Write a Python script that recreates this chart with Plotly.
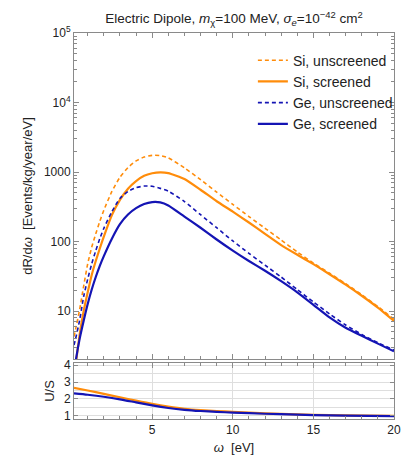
import plotly.graph_objects as go

# energy grid [eV]
omega = [0.15, 0.25, 0.5, 0.75, 1.0, 1.25, 1.5, 1.75, 2.0, 2.5, 3.0, 3.5, 4.0,
         4.5, 5.0, 5.5, 6.0, 7.0, 8.0, 9.0, 10.0, 11.0, 12.0, 13.0, 14.0,
         15.0, 16.0, 17.0, 18.0, 19.0, 20.0]

# dR/domega [Events/kg/year/eV]
si_unscreened = [4.3, 5.5, 10.5, 22.9, 47.9, 83, 129, 195, 282, 525, 841,
                 1161, 1445, 1641, 1738, 1726, 1603, 1148, 776, 513, 343, 229,
                 155, 105, 70.8, 49, 35.1, 24.8, 17.2, 11.6, 7.6]
si_screened = [1.0, 1.66, 4.57, 10, 18.6, 33.1, 52.5, 79.4, 117.5, 240, 398,
               575, 741, 881, 959, 991, 966, 794, 556, 380, 269, 188, 129, 89,
               64.6, 47.3, 33.9, 24, 16.6, 11.2, 7.2]
ge_unscreened = [3.24, 4.0, 7.4, 16.2, 28.8, 47.9, 74, 110, 155, 269, 417,
                 525, 596, 628, 624, 582, 531, 376, 243, 158, 102, 67.6, 45.7,
                 30.9, 20.4, 13.5, 9.1, 6.3, 4.6, 3.5, 2.75]
ge_screened = [1.2, 1.86, 3.98, 7.24, 12.6, 20.4, 30.9, 44.7, 61.7, 110, 178,
               245, 302, 347, 370, 366, 331, 229, 158, 107, 74, 52.5, 38, 26.9,
               18.6, 12.3, 8.1, 5.75, 4.4, 3.4, 2.63]

# unscreened / screened ratio (lower panel)
omega_ratio = [0.15, 1, 2, 3, 4, 5, 6, 7, 8, 9, 10, 12, 14, 15, 17, 20]
si_ratio = [2.65, 2.5, 2.3, 2.1, 1.9, 1.71, 1.55, 1.42, 1.34, 1.29, 1.24,
            1.15, 1.09, 1.06, 1.03, 1.0]
ge_ratio = [2.33, 2.25, 2.13, 1.98, 1.8, 1.62, 1.47, 1.36, 1.29, 1.24, 1.2,
            1.13, 1.08, 1.05, 1.02, 0.99]

orange = '#FF8C0A'
blue = '#1414B4'
frame = '#8a8a8a'
font = 'Liberation Sans, Arial, sans-serif'

fig = go.Figure()

main = [
    ("Si, unscreened", si_unscreened, orange, '4px,3px', 1.6),
    ("Si, screened", si_screened, orange, 'solid', 2.2),
    ("Ge, unscreened", ge_unscreened, blue, '4px,3px', 1.6),
    ("Ge, screened", ge_screened, blue, 'solid', 2.2),
]
for name, vals, col, dash, w in main:
    fig.add_trace(go.Scatter(
        x=omega, y=vals, mode='lines', name=name,
        line=dict(color=col, width=w, dash=dash, shape='spline', smoothing=0.5),
        xaxis='x', yaxis='y', hoverinfo='skip'
    ))

for vals, col in [(si_ratio, orange), (ge_ratio, blue)]:
    fig.add_trace(go.Scatter(
        x=omega_ratio, y=vals, mode='lines', showlegend=False,
        line=dict(color=col, width=2.2, shape='spline', smoothing=0.6),
        xaxis='x2', yaxis='y2', hoverinfo='skip'
    ))

axis_common = dict(
    showline=True, linecolor=frame, linewidth=1, mirror='ticks',
    ticks='inside', tickcolor=frame, zeroline=False, automargin=False,
    tickfont=dict(family=font, size=12, color='#222'),
)

fig.update_layout(
    width=407, height=456,
    margin=dict(l=74, r=9, t=33, b=37),
    paper_bgcolor='white', plot_bgcolor='white',
    font=dict(family=font, size=13, color='#222'),
    title=dict(
        text="Electric Dipole, <i>m</i><sub>χ</sub>=100 MeV, "
             "<i>σ</i><sub><i>e</i></sub>=10<sup>−42</sup> cm<sup>2</sup>",
        x=0.5, xref='paper', xanchor='center', y=0.959, yanchor='middle',
        font=dict(family=font, size=13.5, color='#222')
    ),
    xaxis=dict(
        axis_common, anchor='y', range=[0.15, 20], showticklabels=False,
        tickvals=[5, 10, 15, 20], ticklen=5, showgrid=False,
        minor=dict(ticks='inside', dtick=1, ticklen=3, tickcolor=frame)
    ),
    yaxis=dict(
        axis_common, domain=[0.1554, 1], type='log', range=[0.31, 5],
        tickvals=[10, 100, 1000, 1e4, 1e5],
        ticktext=['10', '100', '1000', '10<sup>4</sup>', '10<sup>5</sup>'],
        ticklen=5, showgrid=False,
        minor=dict(ticks='inside', ticklen=3, tickcolor=frame, dtick='D1'),
        title=dict(text="dR/d<i>ω</i>  [Events/kg/year/eV]", standoff=8,
                   font=dict(family=font, size=13, color='#222'))
    ),
    xaxis2=dict(
        axis_common, anchor='y2', range=[0.15, 20],
        tickvals=[5, 10, 15, 20], ticklen=5,
        showgrid=True, gridcolor='#dedede', gridwidth=1,
        minor=dict(ticks='inside', dtick=1, ticklen=3, tickcolor=frame,
                   showgrid=False),
        title=dict(text="<i>ω</i>  [eV]", standoff=6,
                   font=dict(family=font, size=13, color='#222'))
    ),
    yaxis2=dict(
        axis_common, domain=[0, 0.1451], range=[0.82, 4.12],
        tickvals=[1, 2, 3, 4], ticklen=4,
        showgrid=True, gridcolor='#dedede', gridwidth=1,
        minor=dict(dtick=0.5, tick0=0, showgrid=True, gridcolor='#dedede',
                   ticks=''),
        title=dict(text="U/S", standoff=6,
                   font=dict(family=font, size=13, color='#222'))
    ),
    legend=dict(
        x=0.559, xanchor='left', y=0.97, yanchor='top',
        bgcolor='rgba(0,0,0,0)', font=dict(family=font, size=14, color='#222'),
        itemwidth=30, tracegroupgap=0
    ),
)

# drop the default page margin so the 407x456 figure fills the window exactly
fig.write_html("out.html", config={'displayModeBar': False},
               post_script="document.body.style.margin='0';")
